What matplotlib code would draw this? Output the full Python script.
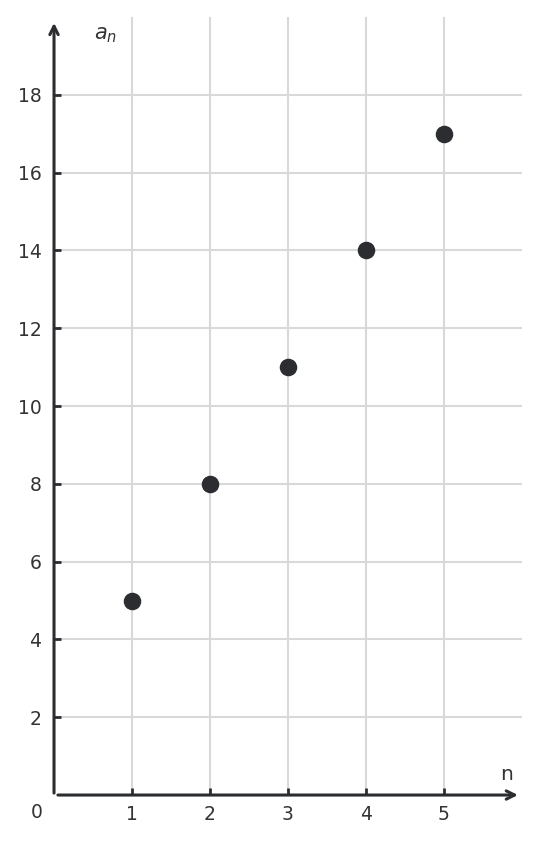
import matplotlib
matplotlib.use("Agg")
import matplotlib.pyplot as plt

# sequence a_n = 3n + 2
n_vals = [1, 2, 3, 4, 5]
a_vals = [5, 8, 11, 14, 17]
x_ticks = [1, 2, 3, 4, 5]
y_ticks = [2, 4, 6, 8, 10, 12, 14, 16, 18]

ink = "#2b2d31"
grid_c = "#d9d9d9"
label_c = "#333333"

fig = plt.figure(figsize=(5.38, 8.43), dpi=100)
ax = fig.add_axes([0.1004, 0.0569, 0.8696, 0.9229])
ax.set_xlim(0, 6)
ax.set_ylim(0, 20)

for s in ax.spines.values():
    s.set_visible(False)

ax.set_xticks(x_ticks)
ax.set_yticks(y_ticks)
ax.tick_params(direction="in", length=5, width=2, color=ink,
               labelsize=13.5, labelcolor=label_c)
ax.tick_params(axis="x", pad=7)
ax.tick_params(axis="y", pad=9)
ax.grid(True, color=grid_c, linewidth=1.5)
ax.set_axisbelow(True)

# axes with arrow heads
arrow = dict(arrowstyle="->,head_length=0.6,head_width=0.3", color=ink, lw=2.2,
             shrinkA=0, shrinkB=0)
ax.annotate("", xy=(5.95, 0), xytext=(0.05, 0), arrowprops=arrow, annotation_clip=False)
ax.annotate("", xy=(0, 19.85), xytext=(0, 0.05), arrowprops=arrow, annotation_clip=False)

ax.scatter(n_vals, a_vals, s=135, color=ink, zorder=5, clip_on=False)

ax.text(-0.22, -0.45, "0", fontsize=13.5, color=label_c, ha="center", va="center")
ax.text(5.8, 0.52, "n", fontsize=14.5, color=label_c, ha="center", va="center")
ax.text(0.66, 19.55, "$a_n$", fontsize=15, color=label_c, ha="center", va="center")

fig.savefig("out.png", dpi=100)
